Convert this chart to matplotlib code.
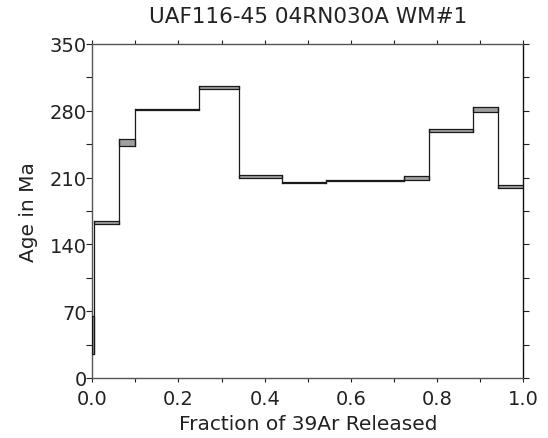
import matplotlib
matplotlib.use("Agg")
import matplotlib.pyplot as plt
from matplotlib.patches import Rectangle
from matplotlib.ticker import MultipleLocator
import numpy as np

plt.rcParams['font.family'] = ['DejaVu Sans']

# cumulative 39Ar fraction at each step boundary
frac_edges = [0.0, 0.005, 0.063, 0.100, 0.248, 0.340, 0.441, 0.542,
              0.723, 0.782, 0.883, 0.942, 1.0]
# apparent age (Ma) and 1-sigma error for each step
ages = [45.0, 163.0, 247.0, 281.5, 304.0, 211.0, 204.8, 207.0,
        209.5, 259.0, 281.3, 200.8]
errs = [20.0, 1.2, 3.8, 0.6, 1.5, 1.2, 0.5, 0.5,
        2.5, 1.4, 2.7, 1.5]

title = "UAF116-45 04RN030A WM#1"

fig = plt.figure(figsize=(5.48, 4.39), dpi=100)
ax = fig.add_axes([0.1684, 0.1367, 0.7866, 0.7608])

lo = np.array(ages) - np.array(errs)
hi = np.array(ages) + np.array(errs)

# step boxes
for i in range(len(ages)):
    x0, x1 = frac_edges[i], frac_edges[i + 1]
    ax.add_patch(Rectangle((x0, lo[i]), x1 - x0, hi[i] - lo[i],
                           facecolor='#a0a0a0', edgecolor='#1a1a1a',
                           lw=0.9, zorder=3))

# connectors between steps
for i in range(len(ages) - 1):
    xb = frac_edges[i + 1]
    ymin = min(lo[i], lo[i + 1])
    ymax = max(hi[i], hi[i + 1])
    ax.plot([xb, xb], [ymin, ymax], color='#1a1a1a', lw=0.9, zorder=3)

ax.set_xlim(0, 1)
ax.set_ylim(0, 350)
ax.xaxis.set_major_locator(MultipleLocator(0.2))
ax.xaxis.set_minor_locator(MultipleLocator(0.1))
ax.yaxis.set_major_locator(MultipleLocator(70))
ax.yaxis.set_minor_locator(MultipleLocator(35))
ax.set_xticklabels([f"{v:.1f}" for v in ax.get_xticks()])

ax.tick_params(which='both', direction='out', top=True, right=True,
               labelsize=14, colors='#222222', width=0.8, length=4)
ax.tick_params(axis='x', which='both', length=3, pad=5)
ax.tick_params(axis='y', pad=0)
ax.tick_params(axis='both', labelcolor='#222222')

for side in ['left', 'bottom', 'top']:
    ax.spines[side].set_color('#555555')
    ax.spines[side].set_linewidth(1.0)
ax.spines['right'].set_color('#111111')
ax.spines['right'].set_linewidth(1.0)

ax.set_title(title, fontsize=15.5, color='#222222', pad=16)
ax.set_xlabel("Fraction of 39Ar Released", fontsize=14.5, color='#222222', labelpad=4)
ax.set_ylabel("Age in Ma", fontsize=14.5, color='#222222', labelpad=8)

fig.savefig("out.png", dpi=100)
